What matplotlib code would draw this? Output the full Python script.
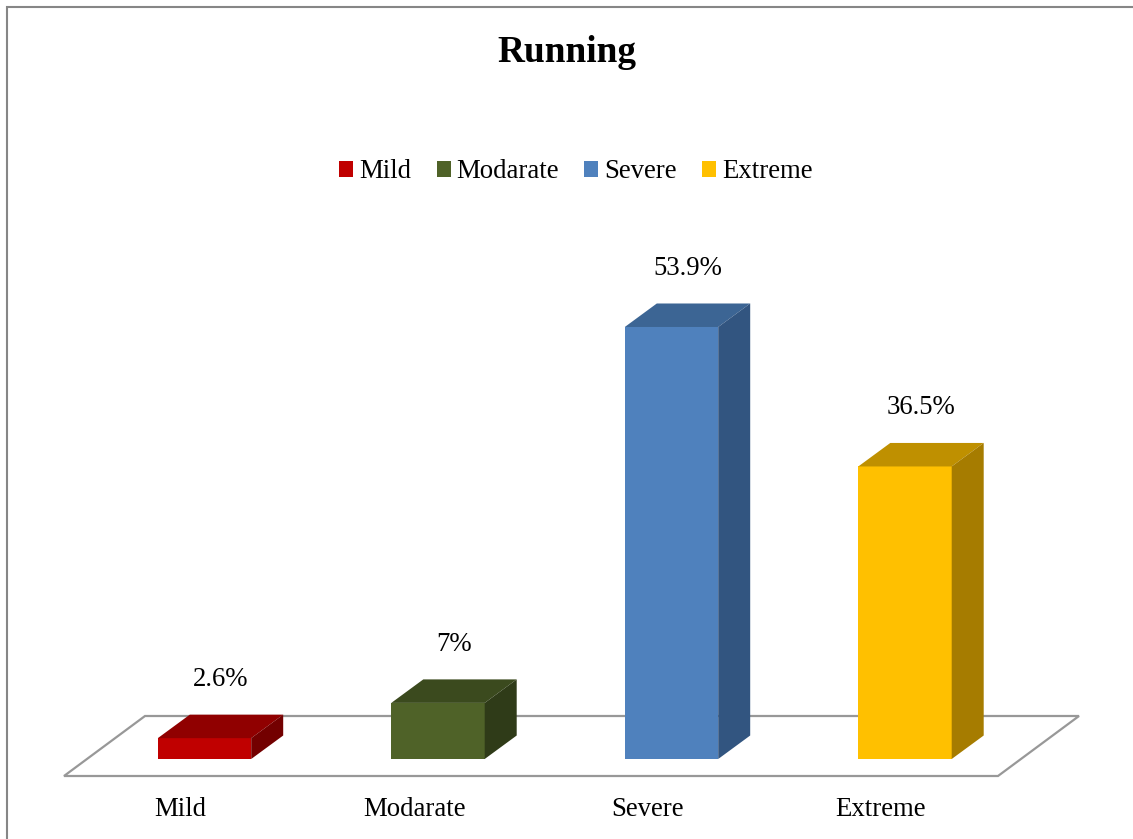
import matplotlib
matplotlib.use("Agg")
import matplotlib.pyplot as plt
from matplotlib.patches import Polygon, Patch, Rectangle

categories = ["Mild", "Modarate", "Severe", "Extreme"]
values = [2.6, 7.0, 53.9, 36.5]
value_labels = ["2.6%", "7%", "53.9%", "36.5%"]
title = "Running"

front_colors = ["#C00000", "#4F6228", "#4F81BD", "#FFC000"]
top_colors = ["#900000", "#3B4A1E", "#3C6594", "#BF9000"]
side_colors = ["#730000", "#2F3B18", "#325580", "#A67C00"]

plt.rcParams["font.family"] = ["Liberation Serif", "DejaVu Serif"]

W, H = 1133, 839
fig = plt.figure(figsize=(W / 100, H / 100), dpi=100)
ax = fig.add_axes([0, 0, 1, 1])

# pixel geometry -> data units
px_per_cat = 233.5
px_per_pct = 8.015
x0_px = 204.5
y0_px = 759
ax.set_xlim(-x0_px / px_per_cat, (W - x0_px) / px_per_cat)
ax.set_ylim(-(H - y0_px) / px_per_pct, y0_px / px_per_pct)
ax.axis("off")

bw = 0.4
dx = 32 / px_per_cat
dy = 23.5 / px_per_pct

# floor
fdx = 81 / px_per_cat
fdy = 60 / px_per_pct
fy = -17 / px_per_pct
fx0 = (64 - x0_px) / px_per_cat
fx1 = fx0 + len(categories)
floor = Polygon([(fx0, fy), (fx1, fy), (fx1 + fdx, fy + fdy), (fx0 + fdx, fy + fdy)],
                closed=True, facecolor="white", edgecolor="#989898", lw=1.6, zorder=1)
ax.add_patch(floor)

xs = list(range(len(categories)))
ax.bar(xs, values, width=bw, color=front_colors, zorder=3, linewidth=0)
for x, v, tc, sc in zip(xs, values, top_colors, side_colors):
    l, r = x - bw / 2, x + bw / 2
    ax.add_patch(Polygon([(l, v), (r, v), (r + dx, v + dy), (l + dx, v + dy)],
                         closed=True, facecolor=tc, edgecolor="none", zorder=3))
    ax.add_patch(Polygon([(r, 0), (r, v), (r + dx, v + dy), (r + dx, dy)],
                         closed=True, facecolor=sc, edgecolor="none", zorder=3))

FS = 19.3
for x, v, lab in zip(xs, values, value_labels):
    ax.text(x + dx / 2, v + dy + 35 / px_per_pct, lab, ha="center", va="center",
            fontsize=FS, color="black", zorder=5)

for x, c in zip(xs, categories):
    ax.text(x - 24 / px_per_cat, -50 / px_per_pct, c, ha="center", va="center",
            fontsize=FS, color="black")

fig.text(567 / W, 1 - 53 / H, title, ha="center", va="center", fontsize=26.8, fontweight="bold")

handles = [Patch(facecolor=c, edgecolor="none", label=n) for c, n in zip(front_colors, categories)]
fig.legend(handles=handles, loc="center", bbox_to_anchor=(576 / W, 1 - 172 / H), ncol=4,
           frameon=False, fontsize=FS, handlelength=0.52, handleheight=0.52,
           handletextpad=0.22, columnspacing=0.95, borderpad=0)

fig.add_artist(Rectangle((7 / W, -0.1), 1.2, 1 - 7 / H + 0.1, transform=fig.transFigure,
                         facecolor="none", edgecolor="#868686", lw=1.5))

fig.savefig("out.png", dpi=100)
